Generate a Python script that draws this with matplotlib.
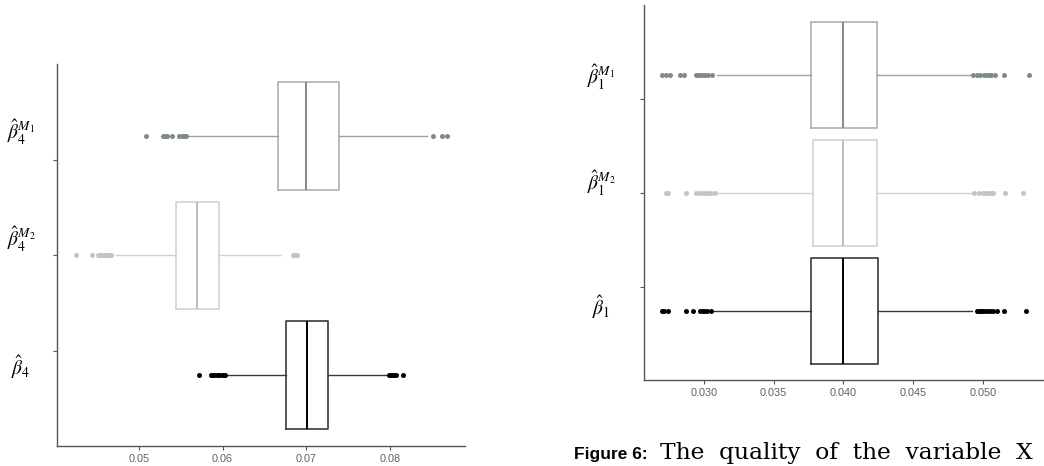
import matplotlib
matplotlib.use("Agg")
import matplotlib.pyplot as plt
from matplotlib.transforms import offset_copy, blended_transform_factory

plt.rcParams['mathtext.fontset'] = 'stix'

# ---------------- data (left panel: beta_4) ----------------
left_labels = [r"$\hat{\beta}_4$", r"$\hat{\beta}_4^{M_2}$", r"$\hat{\beta}_4^{M_1}$"]
left_q1 = [0.0676, 0.0544, 0.0666]
left_med = [0.0701, 0.0569, 0.0700]
left_q3 = [0.0726, 0.0596, 0.0739]
left_wlo = [0.0605, 0.0473, 0.0559]
left_whi = [0.0796, 0.0670, 0.0844]
left_fliers = [
    [0.0572, 0.0586, 0.0588, 0.0590, 0.0593, 0.0596, 0.0599, 0.0601, 0.0603,
     0.0799, 0.0801, 0.0803, 0.0805, 0.0808, 0.0816],
    [0.0425, 0.0444, 0.0451, 0.0453, 0.0455, 0.0457, 0.0460, 0.0462, 0.0464, 0.0466,
     0.0684, 0.0687, 0.0689],
    [0.0508, 0.0529, 0.0531, 0.0533, 0.0540, 0.0548, 0.0552, 0.0554, 0.0556,
     0.0852, 0.0862, 0.0869],
]
left_ticks = [0.05, 0.06, 0.07, 0.08]
left_ticklabels = ["0.05", "0.06", "0.07", "0.08"]

# ---------------- data (right panel: beta_1) ----------------
right_labels = [r"$\hat{\beta}_1$", r"$\hat{\beta}_1^{M_2}$", r"$\hat{\beta}_1^{M_1}$"]
right_q1 = [0.0377, 0.0378, 0.0377]
right_med = [0.0400, 0.0400, 0.0400]
right_q3 = [0.0425, 0.0424, 0.0424]
right_wlo = [0.0306, 0.0309, 0.0309]
right_whi = [0.0492, 0.0492, 0.0492]
right_fliers = [
    [0.0270, 0.0271, 0.0274, 0.0287, 0.0292, 0.0297, 0.0299, 0.0300, 0.0302, 0.0305,
     0.0496, 0.0497, 0.0499, 0.0500, 0.0501, 0.0503, 0.0505, 0.0507, 0.0510, 0.0515, 0.0531],
    [0.0273, 0.0274, 0.0287, 0.0294, 0.0297, 0.0299, 0.0301, 0.0303, 0.0305, 0.0308,
     0.0494, 0.0497, 0.0500, 0.0502, 0.0504, 0.0506, 0.0507, 0.0516, 0.0529],
    [0.0270, 0.0273, 0.0276, 0.0283, 0.0286, 0.0294, 0.0296, 0.0297, 0.0299, 0.0301,
     0.0303, 0.0306, 0.0493, 0.0496, 0.0498, 0.0501, 0.0503, 0.0505, 0.0506, 0.0509,
     0.0515, 0.0533],
]
right_ticks = [0.030, 0.035, 0.040, 0.045, 0.050]
right_ticklabels = ["0.030", "0.035", "0.040", "0.045", "0.050"]

caption_bold = "Figure 6:"
caption_text = "The  quality  of  the  variable  X"

# styles per group (bottom -> top): beta, M2, M1
box_edge = ["#3a3a3a", "#d2d2d2", "#a9b1af"]
med_col = ["#000000", "#bcbcbc", "#7f8b88"]
whisk_col = ["#3a3a3a", "#d2d2d2", "#9aa4a2"]
flier_col = ["#000000", "#c4c4c4", "#7f8b88"]

fig = plt.figure(figsize=(10.44, 4.66), dpi=100)


def panel(ax, q1, med, q3, wlo, whi, fliers, labels, ticks, ticklabels,
          xlim, ylim, label_y, label_dx_px):
    for i in range(3):
        stats = [dict(med=med[i], q1=q1[i], q3=q3[i], whislo=wlo[i],
                      whishi=whi[i], fliers=fliers[i])]
        ax.bxp(stats, positions=[i + 1], widths=0.9, vert=False,
               showcaps=False, patch_artist=False,
               boxprops=dict(color=box_edge[i], linewidth=1.2),
               medianprops=dict(color=med_col[i], linewidth=1.4),
               whiskerprops=dict(color=whisk_col[i], linewidth=1.0),
               flierprops=dict(marker='o', markersize=3.6,
                               markerfacecolor=flier_col[i],
                               markeredgecolor='none', linestyle='none'))
    ax.set_xlim(*xlim)
    ax.set_ylim(*ylim)
    ax.set_xticks(ticks)
    ax.set_xticklabels(ticklabels, family="Liberation Sans")
    # y tick marks (offset from the boxes as in the reference)
    ax.set_yticks([1.2, 2.0, 2.8])
    ax.set_yticklabels(["", "", ""])
    ax.tick_params(axis='both', length=3, width=0.8, color="#555555",
                   labelsize=7.8, labelcolor="#606060", pad=3)
    for s in ["top", "right"]:
        ax.spines[s].set_visible(False)
    for s in ["left", "bottom"]:
        ax.spines[s].set_color("#555555")
        ax.spines[s].set_linewidth(1.0)
    base = blended_transform_factory(ax.transAxes, ax.transData)
    tr = offset_copy(base, fig=fig, x=-label_dx_px, y=0, units='dots')
    for lab, y in zip(labels, label_y):
        ax.text(0, y, lab, transform=tr, ha='center', va='center',
                fontsize=14, color="#000000")


W, H = 1044, 466
axL = fig.add_axes([57 / W, (H - 446) / H, 408 / W, 382 / H])
panel(axL, left_q1, left_med, left_q3, left_wlo, left_whi, left_fliers,
      left_labels, left_ticks, left_ticklabels,
      (0.0402, 0.0890), (0.406, 3.60), [1.07, 2.13, 3.03], 36)

axR = fig.add_axes([644 / W, (H - 380) / H, 403 / W, 375 / H])
panel(axR, right_q1, right_med, right_q3, right_wlo, right_whi, right_fliers,
      right_labels, right_ticks, right_ticklabels,
      (0.0257, 0.0546), (0.415, 3.593), [1.03, 2.08, 2.98], 43)

# caption
fig.text(574 / W, 7 / H, caption_bold, fontsize=12.5, fontweight='bold',
         family="Liberation Sans", ha='left', va='baseline')
fig.text(660 / W, 7 / H, caption_text, fontsize=16.8,
         family="DejaVu Serif", ha='left', va='baseline')

fig.savefig("out.png", dpi=100)
